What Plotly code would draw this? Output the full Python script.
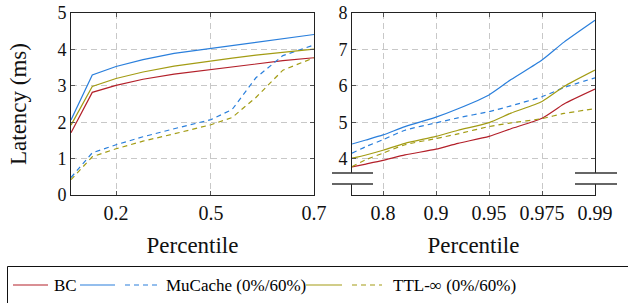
import numpy as np
import plotly.graph_objects as go

# ---------------- data ----------------
P_LEFT = [0.0, 0.1, 0.2, 0.3, 0.4, 0.5, 0.55, 0.6, 0.65, 0.7]
BC_LEFT = [1.71, 2.82, 3.01, 3.18, 3.32, 3.45, 3.52, 3.60, 3.69, 3.77]
MU0_LEFT = [2.06, 3.30, 3.53, 3.72, 3.89, 4.03, 4.10, 4.19, 4.30, 4.41]
MU60_LEFT = [0.48, 1.16, 1.38, 1.60, 1.82, 2.07, 2.35, 3.22, 3.83, 4.12]
TTL0_LEFT = [1.92, 2.98, 3.20, 3.38, 3.54, 3.69, 3.76, 3.84, 3.92, 4.01]
TTL60_LEFT = [0.42, 1.05, 1.27, 1.48, 1.68, 1.93, 2.13, 2.68, 3.43, 3.77]

P_RIGHT = [0.7, 0.75, 0.8, 0.85, 0.9, 0.925, 0.95, 0.9625, 0.975, 0.98125, 0.9875]
BC_RIGHT = [3.77, 3.85, 3.95, 4.10, 4.26, 4.42, 4.61, 4.82, 5.11, 5.50, 5.91]
MU0_RIGHT = [4.40, 4.51, 4.65, 4.88, 5.14, 5.37, 5.75, 6.17, 6.71, 7.20, 7.80]
MU60_RIGHT = [4.15, 4.33, 4.52, 4.78, 4.98, 5.12, 5.29, 5.45, 5.70, 5.95, 6.22]
TTL0_RIGHT = [4.01, 4.10, 4.23, 4.42, 4.61, 4.78, 4.99, 5.25, 5.57, 5.98, 6.43]
TTL60_RIGHT = [3.78, 3.97, 4.15, 4.38, 4.55, 4.68, 4.88, 4.98, 5.10, 5.24, 5.37]

LEFT_TICKS = [0.2, 0.5, 0.7]
LEFT_TICK_TEXT = ["0.2", "0.5", "0.7"]
RIGHT_TICKS = [0.8, 0.9, 0.95, 0.975, 0.9875]
RIGHT_TICK_TEXT = ["0.8", "0.9", "0.95", "0.975", "0.99"]
LEFT_Y_TICKS = [0, 1, 2, 3, 4, 5]
RIGHT_Y_TICKS = [4, 5, 6, 7, 8]

RED = "#b3202a"
BLUE = "#2a7fdc"
OLIVE = "#a39c14"
FONT = "Liberation Serif"


def pscale(p):
    """Percentile axis scale: -ln(1-p)."""
    return -np.log(1.0 - np.asarray(p, dtype=float))


fig = go.Figure()

series = [
    (BC_LEFT, BC_RIGHT, RED, "solid", "BC"),
    (MU0_LEFT, MU0_RIGHT, BLUE, "solid", "MuCache 0%"),
    (MU60_LEFT, MU60_RIGHT, BLUE, "5px,4px", "MuCache 60%"),
    (TTL0_LEFT, TTL0_RIGHT, OLIVE, "solid", "TTL 0%"),
    (TTL60_LEFT, TTL60_RIGHT, OLIVE, "5px,4px", "TTL 60%"),
]
for yl, yr, color, dash, name in series:
    fig.add_trace(go.Scatter(x=pscale(P_LEFT), y=yl, mode="lines", name=name,
                             line=dict(color=color, width=1.2, dash=dash),
                             xaxis="x", yaxis="y", showlegend=False))
    fig.add_trace(go.Scatter(x=pscale(P_RIGHT), y=yr, mode="lines", name=name,
                             line=dict(color=color, width=1.2, dash=dash, shape="spline", smoothing=0.6),
                             xaxis="x2", yaxis="y2", showlegend=False))

W, H = 628, 303


def px(x):
    return x / W


def py(y):
    return (H - y) / H


common_axis = dict(showline=True, linecolor="#222", linewidth=1, mirror="ticks",
                   ticks="inside", ticklen=4, tickcolor="#555",
                   showgrid=True, gridcolor="#c8c8c8", gridwidth=1, griddash="6px,4px",
                   zeroline=False, automargin=False,
                   tickfont=dict(family=FONT, size=20, color="#111"))

fig.update_layout(
    width=W, height=H, margin=dict(l=0, r=0, t=0, b=0),
    paper_bgcolor="white", plot_bgcolor="white",
    font=dict(family=FONT, color="#111"),
    xaxis=dict(common_axis, domain=[px(71), px(314)], anchor="y",
               range=[float(pscale(0.0)), float(pscale(0.7))],
               tickvals=pscale(LEFT_TICKS), ticktext=LEFT_TICK_TEXT,
               title=dict(text="Percentile", font=dict(family=FONT, size=23), standoff=13)),
    yaxis=dict(common_axis, domain=[py(195), py(13)], anchor="x",
               range=[0, 5], tickvals=LEFT_Y_TICKS,
               tickfont=dict(family=FONT, size=18, color="#111"),
               title=dict(text="Latency (ms)", font=dict(family=FONT, size=23), standoff=24)),
    xaxis2=dict(common_axis, domain=[px(352), px(595)], anchor="y2",
                range=[float(pscale(0.7)), float(pscale(0.9875))],
                tickvals=pscale(RIGHT_TICKS), ticktext=RIGHT_TICK_TEXT,
                title=dict(text="Percentile", font=dict(family=FONT, size=23), standoff=13)),
    yaxis2=dict(common_axis, domain=[py(195), py(13)], anchor="x2",
                range=[3, 8], tickvals=RIGHT_Y_TICKS,
                tickfont=dict(family=FONT, size=18, color="#111")),
    showlegend=False,
)

shapes = []
# axis break marks on the right panel
for xa, xb, xc in [(332, 373, 352), (575, 617, 595)]:
    shapes.append(dict(type="rect", xref="paper", yref="paper",
                       x0=px(xc - 3), x1=px(xc + 3), y0=py(184), y1=py(173),
                       fillcolor="white", line=dict(width=0), layer="above"))
    for yy in (173, 184):
        shapes.append(dict(type="line", xref="paper", yref="paper",
                           x0=px(xa), x1=px(xb), y0=py(yy), y1=py(yy),
                           line=dict(color="#333", width=1.5), layer="above"))

# legend box
shapes.append(dict(type="rect", xref="paper", yref="paper",
                   x0=px(7.5), x1=px(640), y0=py(310), y1=py(266.5),
                   line=dict(color="#111", width=1), fillcolor="rgba(0,0,0,0)"))
LY = 285
legend_lines = [(13, 48, RED, "solid"), (80, 115, BLUE, "solid"), (125, 157, BLUE, "5px,4px"),
                (306, 342, OLIVE, "solid"), (352, 382, OLIVE, "5px,4px")]
for x0, x1, c, d in legend_lines:
    shapes.append(dict(type="line", xref="paper", yref="paper",
                       x0=px(x0), x1=px(x1), y0=py(LY), y1=py(LY),
                       line=dict(color=c, width=1.2, dash=d)))
fig.update_layout(shapes=shapes)

annotations = []
for x0, txt in [(52, "BC"), (164, "MuCache (0%/60%)"), (391, "TTL-∞ (0%/60%)")]:
    annotations.append(dict(x=px(x0), y=py(LY), xref="paper", yref="paper",
                            xanchor="left", yanchor="middle", text=txt, showarrow=False,
                            font=dict(family=FONT, size=17, color="#000")))
fig.update_layout(annotations=annotations)

fig.write_html("out.html", config={"displayModeBar": False},
               post_script="document.body.style.margin='0';")
